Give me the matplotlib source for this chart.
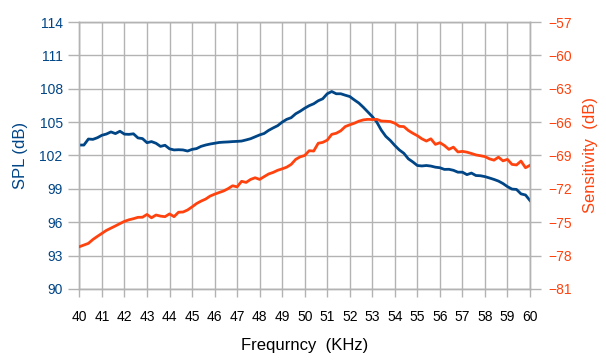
"""SPL and sensitivity versus frequency, two y axes."""

import matplotlib.pyplot as plt
import numpy as np

plt.rcParams["font.family"] = ["Liberation Sans", "DejaVu Sans"]

FREQ_KHZ = np.round(np.arange(40.0, 60.01, 0.2), 1)

SPL_DB = [
    102.94, 102.94, 103.48, 103.45, 103.60, 103.82, 103.93, 104.12, 103.97, 104.18,
    103.92, 103.90, 103.95, 103.58, 103.52, 103.15, 103.25, 103.10, 102.82, 102.92,
    102.60, 102.50, 102.52, 102.50, 102.40, 102.55, 102.62, 102.82, 102.94, 103.03,
    103.10, 103.17, 103.20, 103.22, 103.25, 103.27, 103.30, 103.40, 103.51, 103.68,
    103.85, 103.98, 104.26, 104.48, 104.68, 105.00, 105.25, 105.40, 105.75, 105.98,
    106.25, 106.48, 106.65, 106.92, 107.10, 107.55, 107.75, 107.55, 107.55, 107.42,
    107.30, 107.00, 106.72, 106.34, 105.92, 105.50, 105.00, 104.28, 103.72, 103.35,
    102.90, 102.50, 102.20, 101.70, 101.42, 101.10, 101.06, 101.10, 101.05, 100.95,
    100.90, 100.75, 100.76, 100.67, 100.50, 100.50, 100.28, 100.42, 100.20, 100.18,
    100.10, 99.98, 99.85, 99.70, 99.48, 99.20, 98.98, 98.95, 98.55, 98.45,
    97.95,
]

SENSITIVITY_DB = [
    -77.20, -77.05, -76.90, -76.55, -76.27, -76.00, -75.73, -75.53, -75.33, -75.12,
    -74.92, -74.78, -74.68, -74.56, -74.55, -74.30, -74.60, -74.35, -74.45, -74.50,
    -74.25, -74.50, -74.10, -74.08, -73.90, -73.62, -73.32, -73.10, -72.92, -72.65,
    -72.48, -72.33, -72.19, -71.98, -71.72, -71.82, -71.32, -71.42, -71.15, -71.00,
    -71.15, -70.90, -70.66, -70.52, -70.33, -70.20, -70.05, -69.80, -69.35, -69.12,
    -69.00, -68.57, -68.60, -67.90, -67.82, -67.62, -67.10, -67.00, -66.78, -66.40,
    -66.24, -66.10, -65.92, -65.80, -65.75, -65.77, -65.75, -65.90, -65.92, -65.95,
    -66.10, -66.38, -66.40, -66.75, -67.00, -67.22, -67.50, -67.70, -67.50, -68.00,
    -67.85, -68.10, -68.45, -68.25, -68.68, -68.63, -68.70, -68.82, -68.95, -69.02,
    -69.10, -69.30, -69.42, -69.15, -69.48, -69.35, -69.80, -69.85, -69.50, -70.10,
    -69.88,
]

BLUE = "#004586"
ORANGE = "#ff420e"
GRID = "#b3b3b3"

fig = plt.figure(figsize=(6.06, 3.62), dpi=100)
ax = fig.add_axes([0.131, 0.2017, 0.7436, 0.7375])
ax2 = ax.twinx()

ax.plot(FREQ_KHZ, SPL_DB, color=BLUE, linewidth=2.0, zorder=3)
ax2.plot(FREQ_KHZ, SENSITIVITY_DB, color=ORANGE, linewidth=2.0, zorder=3)

ax.set_xlim(40, 60)
ax.set_ylim(90, 114)
ax2.set_ylim(-81, -57)
ax.set_xticks(np.arange(40, 61, 1))
ax.set_yticks(np.arange(90, 115, 3))
ax2.set_yticks(np.arange(-81, -56, 3))

ax.grid(True, color=GRID, linewidth=1.0)
ax.set_axisbelow(True)
for axis in (ax, ax2):
    for spine in axis.spines.values():
        spine.set_color(GRID)
        spine.set_linewidth(1.0)

ax.tick_params(axis="x", direction="out", length=6, width=1.0, color=GRID,
               labelsize=10, labelcolor="black", pad=9)
ax.tick_params(axis="y", direction="out", length=8, width=1.0, color=GRID,
               labelsize=10, labelcolor=BLUE, pad=4)
ax2.tick_params(axis="y", direction="out", length=8, width=1.0, color=GRID,
                labelsize=10, labelcolor=ORANGE, pad=5)

ax.set_xlabel("Frequrncy  (KHz)", fontsize=12, labelpad=10)
ax.set_ylabel("SPL (dB)", fontsize=12, color=BLUE, labelpad=8)
ax2.set_ylabel("Sensitivity  (dB)", fontsize=12, color=ORANGE, labelpad=8)

fig.savefig("out.png", dpi=100)
